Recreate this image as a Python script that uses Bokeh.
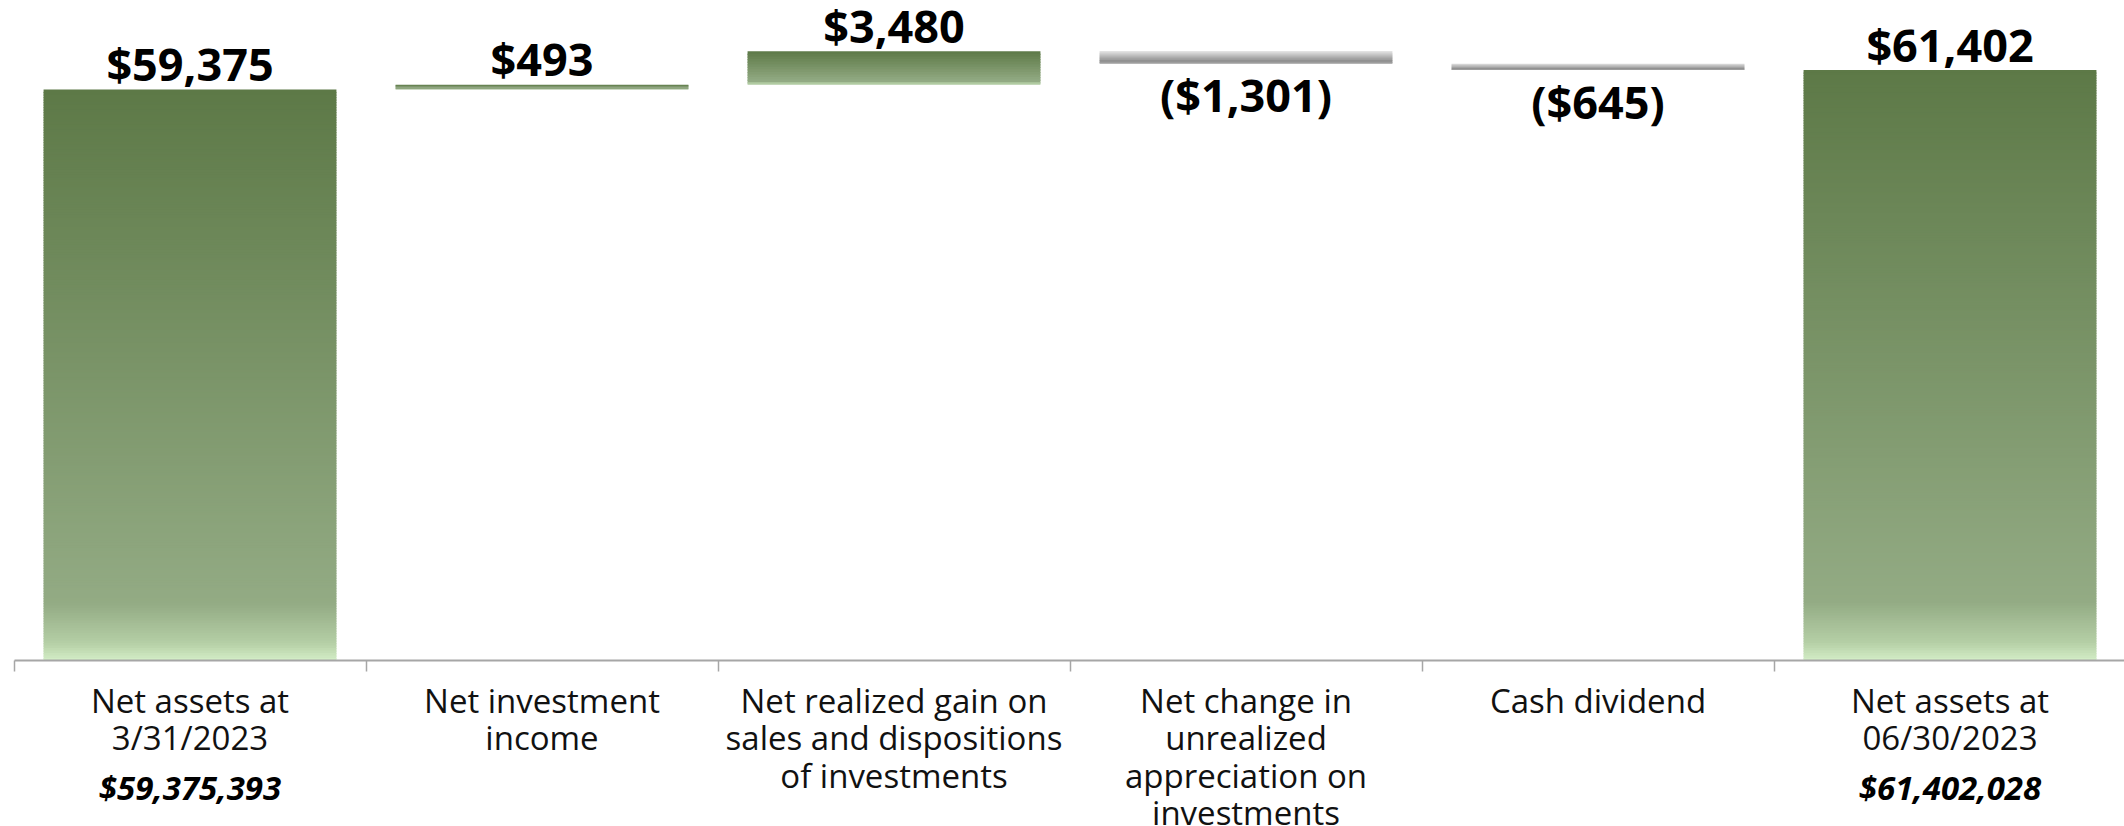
import numpy as np
from bokeh.plotting import figure
from bokeh.models import ColumnDataSource, Range1d, LinearAxis, FixedTicker
from bokeh.core.properties import value
from bokeh.embed import file_html
from bokeh.resources import INLINE

# ---------------- data ----------------
categories = [
    "Net assets at\n3/31/2023",
    "Net investment\nincome",
    "Net realized gain on\nsales and dispositions\nof investments",
    "Net change in\nunrealized\nappreciation on\ninvestments",
    "Cash dividend",
    "Net assets at\n06/30/2023",
]
amounts = [59375, 493, 3480, -1301, -645, 61402]          # $ thousands
kinds = ["total", "delta", "delta", "delta", "delta", "total"]
value_labels = ["$59,375", "$493", "$3,480", "($1,301)", "($645)", "$61,402"]
total_labels = ["$59,375,393", "", "", "", "", "$61,402,028"]

# ---------------- waterfall geometry from data ----------------
xs = list(range(len(categories)))
bottoms, tops = [], []
running = 0
for amt, kind in zip(amounts, kinds):
    if kind == "total":
        b, t = 0, amt
        running = amt
    else:
        b, t = sorted([running, running + amt])
        running += amt
    bottoms.append(b)
    tops.append(t)

GREEN = [(0.0, "#5d7947"), (0.90, "#93ab84"), (0.97, "#b5cfa6"), (1.0, "#d4eec7")]
GREY = [(0.0, "#e2e2e2"), (0.80, "#8c8c8c"), (1.0, "#a9a9a9")]


def hex2rgb(h):
    h = h.lstrip("#")
    return np.array([int(h[i:i + 2], 16) for i in (0, 2, 4)], dtype=float)


def grad_color(stops, t):
    for (t0, c0), (t1, c1) in zip(stops[:-1], stops[1:]):
        if t <= t1:
            f = 0 if t1 == t0 else (t - t0) / (t1 - t0)
            c = hex2rgb(c0) * (1 - f) + hex2rgb(c1) * f
            return "#%02x%02x%02x" % tuple(int(round(v)) for v in c)
    return stops[-1][1]


# ---------------- figure scales ----------------
W, H = 2124, 826
PX_PER_UNIT = 571 / 59375.0
BASE_PX = 660
y0 = -(H - BASE_PX) / PX_PER_UNIT
y1 = BASE_PX / PX_PER_UNIT
CAT_PX = 352.0
x0 = -0.5 - 13.5 / CAT_PX
x1 = x0 + W / CAT_PX

BAR_W = 0.832
sl = dict(left=[], right=[], top=[], bottom=[], color=[])
for x, b, t, amt in zip(xs, bottoms, tops, amounts):
    stops = GREEN if amt >= 0 else GREY
    n = max(6, int((t - b) * PX_PER_UNIT / 2.5))
    h = (t - b) / n
    for j in range(n):
        ytop = t - j * h
        ybot = max(b, ytop - h * 1.5)
        sl["left"].append(x - BAR_W / 2)
        sl["right"].append(x + BAR_W / 2)
        sl["top"].append(ytop)
        sl["bottom"].append(ybot)
        sl["color"].append(grad_color(stops, (j + 0.5) / n))

# value labels: above the top for increases/totals, below the bottom for decreases
lab_y = [t if a >= 0 else b for a, b, t in zip(amounts, bottoms, tops)]
lab_off = [-26 if a >= 0 else 31 for a in amounts]

p = figure(width=W, height=H, output_backend="svg", toolbar_location=None,
           x_range=Range1d(x0, x1), y_range=Range1d(y0, y1),
           x_axis_location=None, y_axis_location=None,
           min_border=0, outline_line_color=None)
p.grid.visible = False
p.background_fill_color = "white"
p.border_fill_color = "white"

p.quad(left="left", right="right", top="top", bottom="bottom",
       fill_color="color", line_color=None, source=ColumnDataSource(sl))

# baseline axis with category-boundary ticks
bounds = [i - 0.5 for i in range(len(categories) + 1)]
ax = LinearAxis(fixed_location=0, ticker=FixedTicker(ticks=bounds), bounds=(-0.5, len(categories) - 0.5),
                major_label_overrides={b: "" for b in bounds}, major_label_standoff=0,
                axis_line_color="#a6a6a6", axis_line_width=2,
                major_tick_line_color="#a6a6a6", major_tick_line_width=1.5,
                major_tick_in=0, major_tick_out=11, minor_tick_line_color=None)
p.add_layout(ax, "below")

src = ColumnDataSource(dict(x=xs, y=lab_y, off=lab_off, txt=value_labels,
                            cat=categories, zero=[0] * len(xs), tot=total_labels))

p.text(x="x", y="y", text="txt", y_offset="off", source=src,
       text_font=value("Open Sans"), text_font_style="bold", text_font_size="45px",
       text_align="center", text_baseline="alphabetic", text_color="#000000")

p.text(x="x", y="zero", text="cat", y_offset=17, source=src,
       text_font=value("Open Sans"), text_font_size="33px", text_line_height=0.835,
       text_align="center", text_baseline="top", text_color="#111111")

p.text(x="x", y="zero", text="tot", y_offset=127, source=src,
       text_font=value("Open Sans"), text_font_style="bold italic", text_font_size="33px",
       text_align="center", text_baseline="alphabetic", text_color="#000000")

open("out.html", "w").write(file_html(p, INLINE))
